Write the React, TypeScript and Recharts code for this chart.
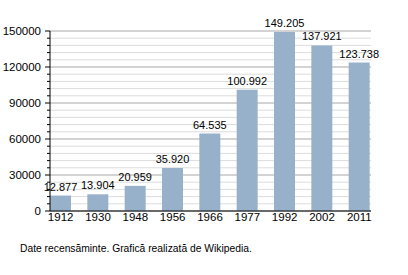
import { Bar, BarChart, CartesianGrid, LabelList, XAxis, YAxis } from "recharts";

const years = ["1912", "1930", "1948", "1956", "1966", "1977", "1992", "2002", "2011"];
const population = [12877, 13904, 20959, 35920, 64535, 100992, 149205, 137921, 123738];

const majorTicks = [0, 30000, 60000, 90000, 120000, 150000];
const minorTicks = [
  6000, 12000, 18000, 24000, 36000, 42000, 48000, 54000, 66000, 72000, 78000, 84000,
  96000, 102000, 108000, 114000, 126000, 132000, 138000, 144000,
];

const footnote = "Date recensăminte. Grafică realizată de Wikipedia.";

const data = years.map((year, i) => ({ year, value: population[i] }));

const font = "'Liberation Sans', Arial, sans-serif";

function YTick({ x, y, payload }: any) {
  const major = majorTicks.includes(payload.value);
  return (
    <g>
      <line x1={x - (major ? 5 : 3)} x2={x} y1={y} y2={y} stroke="#000" />
      {major && (
        <text x={x - 9} y={y} dy="0.35em" textAnchor="end" fontSize={11.5} fill="#000" fontFamily={font}>
          {payload.value}
        </text>
      )}
    </g>
  );
}

export default function App() {
  return (
    <div style={{ position: "absolute", left: 0, top: 0, width: 408, height: 275, background: "#fff" }}>
      <BarChart
        width={408}
        height={275}
        data={data}
        margin={{ top: 31, right: 37, bottom: 34, left: 0 }}
        style={{ fontFamily: font }}
      >
        <CartesianGrid vertical={false} horizontalValues={minorTicks} stroke="#dcdcdc" />
        <CartesianGrid vertical={false} horizontalValues={majorTicks} stroke="#a8a8a8" />
        <XAxis
          dataKey="year"
          padding={{ left: -8, right: -7 }}
          height={30}
          tickLine={false}
          tickSize={0}
          tickMargin={2}
          axisLine={{ stroke: "#000" }}
          tick={{ fill: "#000", fontSize: 11.5, fontFamily: font }}
          interval={0}
        />
        <YAxis
          width={50}
          domain={[0, 150000]}
          ticks={[...majorTicks, ...minorTicks].sort((a, b) => a - b)}
          interval={0}
          tickLine={false}
          tickSize={0}
          tickMargin={0}
          axisLine={{ stroke: "#000" }}
          tick={<YTick />}
        />
        <Bar dataKey="value" fill="#98b1cb" barSize={21} isAnimationActive={false}>
          <LabelList
            dataKey="value"
            position="top"
            offset={5}
            fill="#000"
            fontSize={11}
            fontFamily={font}
            formatter={(v: any) => Number(v).toLocaleString("de-DE")}
          />
        </Bar>
      </BarChart>
      <div
        style={{
          position: "absolute",
          left: 20,
          top: 243,
          fontSize: 10.3,
          fontFamily: font,
          color: "#000",
          whiteSpace: "nowrap",
        }}
      >
        {footnote}
      </div>
    </div>
  );
}
